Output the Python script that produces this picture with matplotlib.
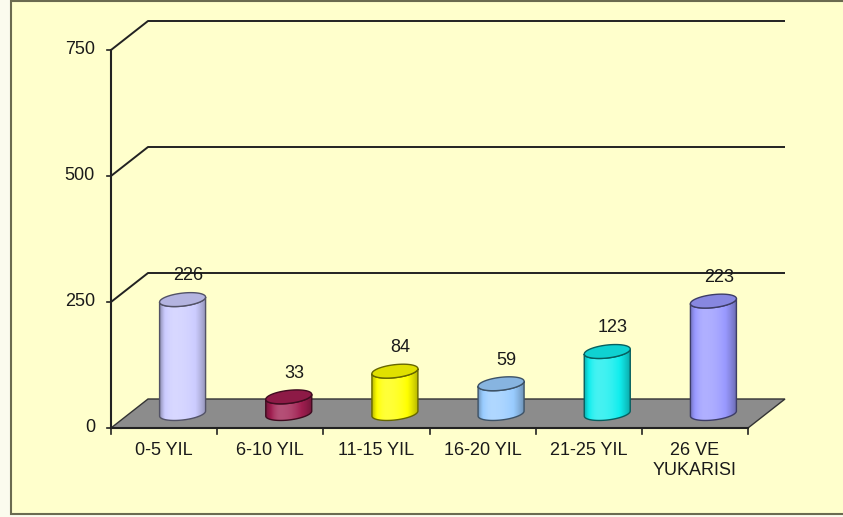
import numpy as np
import matplotlib.pyplot as plt
from matplotlib.patches import Polygon, Rectangle
from matplotlib import colors as mcolors

categories = ['0-5 YIL', '6-10 YIL', '11-15 YIL', '16-20 YIL', '21-25 YIL', '26 VE\nYUKARISI']
values = [226, 33, 84, 59, 123, 223]
bar_colors = ['#CCCCFF', '#A01E50', '#FFFF00', '#99CCFF', '#11EEEE', '#9999FF']
y_ticks = [0, 250, 500, 750]

plt.rcParams['font.family'] = ['Liberation Sans', 'DejaVu Sans']

W, H = 843, 517
fig = plt.figure(figsize=(W / 100, H / 100), dpi=100, facecolor='#FBFBEE')
ax = fig.add_axes([0, 0, 1, 1])
ax.axis('off')
ax.patch.set_visible(False)

# pixel scale of the plot box (front plane)
cat_px = 637 / 6
val_px = 378 / 750
x0_px, y0_px = 111, 428
DX = 37 / cat_px   # depth of the 3d box in category units
DY = 29 / val_px   # ... and in value units

# chart area
ax.add_patch(Rectangle((11 / W, 3 / H), 1, (H - 4) / H, transform=fig.transFigure,
                       fc='#FFFFCC', ec='#6B6B50', lw=1.5, zorder=0))

n = len(categories)
line_c = '#222222'

# back wall gridlines, bent along the left wall
for v in y_ticks[1:]:
    ax.plot([0, DX, n + DX], [v, v + DY, v + DY], color=line_c, lw=1.4, zorder=1,
            solid_capstyle='butt')

# floor
floor = Polygon([(0, 0), (n, 0), (n + DX, DY), (DX, DY)], closed=True,
                fc='#8C8C8C', ec='#333333', lw=1.0, zorder=2)
ax.add_patch(floor)

# front axes lines and ticks
ax.plot([0, 0], [0, y_ticks[-1]], color=line_c, lw=1.5, zorder=3)
ax.plot([0, n], [0, 0], color=line_c, lw=1.5, zorder=3)
for v in y_ticks:
    ax.plot([-4 / cat_px, 0], [v, v], color=line_c, lw=1.2, zorder=3)
    ax.text(-16 / cat_px, v, str(v), ha='right', va='center', fontsize=13, color='#1A1A1A')
for i in range(n + 1):
    ax.plot([i, i], [0, -6 / val_px], color=line_c, lw=1.2, zorder=3)
for i, cat in enumerate(categories):
    ax.text(i + 0.5, -14 / val_px, cat, ha='center', va='top', fontsize=13,
            color='#1A1A1A', linespacing=1.25)


def shade(rgb, f):
    rgb = np.asarray(rgb)
    f = np.asarray(f)[:, None]
    return np.where(f > 0, rgb + (1 - rgb) * f, rgb * (1 + f))


def cylinder(xc, base, top, color, z):
    half_w = 23 / cat_px
    b = 6.5 / val_px
    tilt = 2.5 / val_px
    rgb = np.array(mcolors.to_rgb(color))

    def lower_arc(y):
        t = np.linspace(np.pi, 2 * np.pi, 60)
        return np.column_stack([xc + half_w * np.cos(t), y + b * np.sin(t) + tilt * np.cos(t)])

    body_pts = np.vstack([lower_arc(base), lower_arc(top)[::-1]])
    body = Polygon(body_pts, closed=True, fc=color, ec='none', zorder=z)
    ax.add_patch(body)

    # horizontal shading across the body
    xs = np.linspace(0, 1, 120)
    d = (xs - 0.32) / np.where(xs < 0.32, 0.32, 0.68)
    f = 0.22 - 0.5 * d ** 2
    grad = shade(rgb, f)[None, :, :].repeat(2, axis=0)
    im = ax.imshow(grad, extent=[xc - half_w, xc + half_w, base - 2 * b, top + 2 * b],
                   aspect='auto', origin='lower', interpolation='bilinear', zorder=z)
    im.set_clip_path(body)

    edge = rgb * 0.4
    ax.add_patch(Polygon(body_pts, closed=True, fc='none', ec=edge, lw=1.0, zorder=z + 0.1))

    t = np.linspace(0, 2 * np.pi, 120)
    cap = np.column_stack([xc + half_w * np.cos(t), top + b * np.sin(t) + tilt * np.cos(t)])
    ax.add_patch(Polygon(cap, closed=True, fc=rgb * 0.88, ec=edge, lw=1.0, zorder=z + 0.2))


for i, (v, c) in enumerate(zip(values, bar_colors)):
    xc = i + 0.5 + DX / 2
    base = DY / 2
    cylinder(xc, base, base + v, c, 4 + i)
    ax.annotate(str(v), (xc, base + v), xytext=(4, 17), textcoords='offset points',
                ha='center', va='center', fontsize=13, color='#1A1A1A', zorder=20)

ax.set_xlim(-x0_px / cat_px, (W - x0_px) / cat_px)
ax.set_ylim(-(H - y0_px) / val_px, y0_px / val_px)

fig.savefig('out.png', dpi=100, facecolor=fig.get_facecolor())
